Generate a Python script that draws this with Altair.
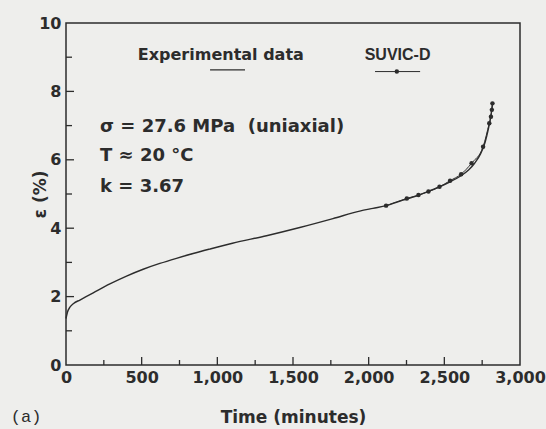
import altair as alt
import pandas as pd

# ---- data ----
exp_t = [0, 10, 26, 50, 92, 180, 290, 400, 510, 620, 730, 840, 950, 1100, 1325,
         1545, 1764, 1941, 2028, 2117, 2226, 2315, 2392, 2458, 2535, 2605, 2660,
         2700, 2740, 2770, 2790, 2805, 2814, 2819]
exp_eps = [1.36, 1.55, 1.69, 1.80, 1.90, 2.11, 2.37, 2.60, 2.80, 2.97, 3.12, 3.26,
           3.39, 3.56, 3.78, 4.02, 4.28, 4.50, 4.58, 4.66, 4.82, 4.94, 5.07, 5.19,
           5.35, 5.52, 5.70, 5.90, 6.18, 6.52, 6.88, 7.22, 7.48, 7.66]

mod_t = [2115, 2252, 2329, 2395, 2468, 2538, 2611, 2680, 2756, 2797, 2808, 2814, 2818]
mod_eps = [4.66, 4.87, 4.97, 5.07, 5.21, 5.39, 5.58, 5.90, 6.38, 7.07, 7.26, 7.46, 7.65]

x_labels = [0, 500, 1000, 1500, 2000, 2500, 3000]
y_labels = [0, 2, 4, 6, 8, 10]
x_major_ticks = [500, 1000, 1500, 2000, 2500]
x_minor_ticks = [250, 750, 1250, 1750, 2250, 2750]
y_major_ticks = [2, 4, 6, 8]
y_minor_ticks = [1, 3, 5, 7, 9]

ann_text = ["σ = 27.6 MPa\u00a0 (uniaxial)", "T ≈ 20 °C", "k = 3.67"]
ann_t = [225, 225, 225]
ann_eps = [6.97, 6.12, 5.21]

leg_exp_label = "Experimental data"
leg_exp_pos = (1023, 9.06)
leg_exp_line_t = [952, 1183]
leg_exp_line_eps = [8.63, 8.63]

leg_mod_label = "SUVIC-D"
leg_mod_pos = (2191, 9.06)
leg_mod_line_t = [2042, 2340]
leg_mod_line_eps = [8.58, 8.58]
leg_mod_marker = (2186, 8.58)

panel_label = "(a)"
panel_pos = (-264, -1.52)

INK = "#2c2c2c"
BG = "#eeeeec"
W, H = 454, 342

xs = alt.Scale(domain=[0, 3000], nice=False, zero=False)
ys = alt.Scale(domain=[0, 10], nice=False, zero=False)

xaxis = alt.Axis(values=x_labels, format=",d", ticks=False, domain=False, grid=False,
                 labelFont="DejaVu Sans", labelFontWeight="bold", labelFontSize=16,
                 labelColor=INK, labelPadding=4, labelFlush=False, labelOverlap=False,
                 titleFont="DejaVu Sans", titleFontWeight="bold", titleFontSize=17,
                 titleColor=INK, titleX=W / 2, titleY=52, titleBaseline="middle",
                 titleAlign="center")
yaxis = alt.Axis(values=y_labels, ticks=False, domain=False, grid=False,
                 labelFont="DejaVu Sans", labelFontWeight="bold", labelFontSize=16,
                 labelColor=INK, labelPadding=5, labelFlush=False, labelOverlap=False,
                 titleFont="DejaVu Sans", titleFontWeight="bold", titleFontSize=17,
                 titleColor=INK, titleAngle=270, titleX=-26, titleY=H / 2,
                 titleAlign="center", titleBaseline="middle")

exp_df = pd.DataFrame({"t": exp_t, "eps": exp_eps})
mod_df = pd.DataFrame({"t": mod_t, "eps": mod_eps})

exp_line = alt.Chart(exp_df).mark_line(color=INK, strokeWidth=1.4, interpolate="monotone").encode(
    x=alt.X("t:Q", scale=xs, axis=xaxis, title="Time (minutes)"),
    y=alt.Y("eps:Q", scale=ys, axis=yaxis, title="ε (%)"),
)
mod_line = alt.Chart(mod_df).mark_line(color=INK, strokeWidth=1.0, interpolate="monotone").encode(
    x=alt.X("t:Q", scale=xs), y=alt.Y("eps:Q", scale=ys))
mod_pts = alt.Chart(mod_df).mark_circle(color=INK, size=20, opacity=1).encode(
    x=alt.X("t:Q", scale=xs), y=alt.Y("eps:Q", scale=ys))

# inward ticks
def xticks(vals, length):
    return alt.Chart(pd.DataFrame({"t": vals})).mark_rule(color=INK, strokeWidth=1.3).encode(
        x=alt.X("t:Q", scale=xs), y=alt.value(H), y2=alt.value(H - length))

def yticks(vals, length):
    return alt.Chart(pd.DataFrame({"eps": vals})).mark_rule(color=INK, strokeWidth=1.3).encode(
        y=alt.Y("eps:Q", scale=ys), x=alt.value(0), x2=alt.value(length))

ticks = [xticks(x_major_ticks, 8), xticks(x_minor_ticks, 5),
         yticks(y_major_ticks, 8), yticks(y_minor_ticks, 6)]

ann_df = pd.DataFrame({"t": ann_t, "eps": ann_eps, "text": ann_text})
ann = alt.Chart(ann_df).mark_text(align="left", baseline="middle", font="DejaVu Sans",
                                  fontWeight="bold", fontSize=18, color=INK).encode(
    x=alt.X("t:Q", scale=xs), y=alt.Y("eps:Q", scale=ys), text="text:N")

leg_exp_txt = alt.Chart(pd.DataFrame({"t": [leg_exp_pos[0]], "eps": [leg_exp_pos[1]],
                                      "text": [leg_exp_label]})).mark_text(
    align="center", baseline="middle", font="DejaVu Sans", fontWeight="bold",
    fontSize=16, color=INK).encode(x=alt.X("t:Q", scale=xs), y=alt.Y("eps:Q", scale=ys), text="text:N")
leg_exp_ln = alt.Chart(pd.DataFrame({"t": leg_exp_line_t, "eps": leg_exp_line_eps})).mark_line(
    color=INK, strokeWidth=1.4).encode(x=alt.X("t:Q", scale=xs), y=alt.Y("eps:Q", scale=ys))

leg_mod_txt = alt.Chart(pd.DataFrame({"t": [leg_mod_pos[0]], "eps": [leg_mod_pos[1]],
                                      "text": [leg_mod_label]})).mark_text(
    align="center", baseline="middle", font="Liberation Sans", fontWeight="bold",
    fontSize=16, color=INK).encode(x=alt.X("t:Q", scale=xs), y=alt.Y("eps:Q", scale=ys), text="text:N")
leg_mod_ln = alt.Chart(pd.DataFrame({"t": leg_mod_line_t, "eps": leg_mod_line_eps})).mark_line(
    color=INK, strokeWidth=1.0).encode(x=alt.X("t:Q", scale=xs), y=alt.Y("eps:Q", scale=ys))
leg_mod_pt = alt.Chart(pd.DataFrame({"t": [leg_mod_marker[0]], "eps": [leg_mod_marker[1]]})).mark_circle(
    color=INK, size=20, opacity=1).encode(x=alt.X("t:Q", scale=xs), y=alt.Y("eps:Q", scale=ys))

panel = alt.Chart(pd.DataFrame({"t": [panel_pos[0]], "eps": [panel_pos[1]],
                                "text": [panel_label]})).mark_text(
    align="center", baseline="middle", font="Liberation Mono", fontSize=17,
    color=INK, clip=False).encode(x=alt.X("t:Q", scale=xs), y=alt.Y("eps:Q", scale=ys), text="text:N")

chart = alt.layer(exp_line, mod_line, mod_pts, *ticks, ann, leg_exp_txt, leg_exp_ln,
                  leg_mod_txt, leg_mod_ln, leg_mod_pt, panel).properties(
    width=W, height=H,
    autosize=alt.AutoSizeParams(type="none"),
    padding={"left": 66, "top": 23, "right": 26, "bottom": 64},
    background=BG,
).configure_view(stroke=INK, strokeWidth=1.5, fill=BG)

chart.save("out.html", embed_options={"renderer": "svg", "actions": False})
